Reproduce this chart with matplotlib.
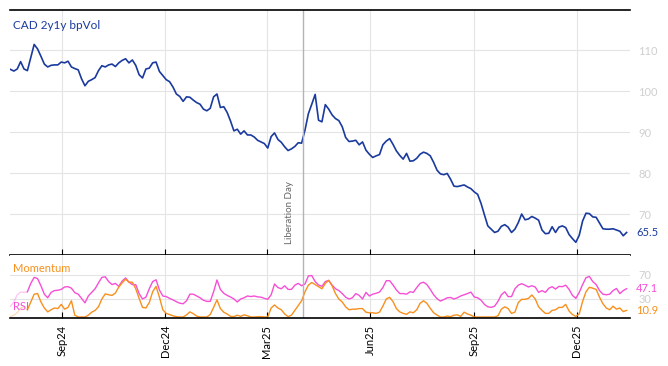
import matplotlib.pyplot as plt
import pandas as pd

plt.rcParams['font.family'] = ['Lato', 'DejaVu Sans']

# CAD 2y1y normal vol (bp), sampled every 3 days from 17 Jul 2024
vol = [105.3, 104.9, 105.4, 107.2, 105.4, 105.0, 108.2, 111.4, 110.3, 108.5,
       106.6, 105.9, 106.3, 106.4, 106.4, 107.1, 106.9, 107.3, 105.9, 105.5,
       105.2, 103.0, 101.3, 102.4, 102.8, 103.3, 105.0, 106.2, 105.9, 106.4,
       106.6, 106.0, 106.9, 107.5, 107.9, 106.9, 107.6, 106.3, 104.0, 103.2,
       105.4, 105.6, 106.9, 107.1, 104.8, 103.8, 102.8, 102.3, 101.0, 99.3,
       98.7, 97.5, 98.6, 98.5, 97.8, 97.2, 96.8, 95.6, 95.2, 95.8,
       98.6, 99.3, 96.0, 96.2, 94.8, 92.7, 90.3, 90.7, 89.5, 90.3,
       89.3, 89.3, 88.8, 88.0, 87.6, 87.2, 86.1, 88.9, 89.8, 88.2,
       87.5, 86.4, 85.5, 85.9, 86.5, 87.4, 87.3, 90.5, 94.5, 96.8,
       99.2, 92.9, 92.5, 96.7, 95.6, 94.2, 93.3, 92.8, 91.3, 88.7,
       87.7, 87.8, 88.0, 86.9, 87.6, 85.6, 84.6, 83.8, 84.2, 84.5,
       86.9, 87.8, 88.4, 87.0, 85.4, 84.3, 83.4, 84.8, 82.9, 83.0,
       83.6, 84.6, 85.1, 84.8, 84.2, 82.6, 80.7, 79.8, 79.6, 79.9,
       78.5, 76.8, 76.7, 76.9, 77.1, 76.6, 76.2, 75.4, 74.8, 72.6,
       69.8, 67.1, 66.3, 65.5, 65.8, 67.0, 67.4, 66.8, 65.5, 66.3,
       67.9, 70.0, 68.6, 68.8, 69.4, 69.0, 68.5, 66.1, 65.2, 65.3,
       66.9, 65.5, 66.8, 67.1, 66.7, 65.0, 64.0, 63.1, 64.8, 68.3,
       70.2, 70.1, 69.3, 69.2, 67.8, 66.4, 66.3, 66.3, 66.4, 66.1,
       65.8, 64.7, 65.5]

rsi = [18, 25, 37, 41.5, 41, 42, 56, 66, 64, 52,
       38, 32, 41, 44, 44.5, 46, 50, 50.5, 48, 40.5,
       38, 31, 23.5, 35, 41, 47, 57, 66, 67, 59,
       54, 56, 51, 60, 65, 58, 54, 54, 39, 30,
       33, 47, 59, 62, 45, 35, 34, 31, 28.5, 25.5,
       23, 22, 27, 38, 38, 35, 32, 28, 26, 26,
       42, 61.7, 46, 39.5, 36, 33.3, 30, 25, 30, 32,
       35, 34, 35, 33.5, 33, 31, 29.5, 37, 55, 49,
       47, 52, 46, 46, 53, 56, 52, 55, 68.5, 69,
       59, 53.3, 51, 59, 61, 53, 47, 44, 39, 33,
       30, 32, 39, 36, 30, 41, 35, 38, 39.5, 41.5,
       49, 60.5, 60.5, 53.3, 45, 39, 39, 38, 42, 41,
       49, 56, 58, 54, 46, 37, 30.5, 26.5, 29, 32,
       32.5, 30, 32, 35, 37, 39, 41.5, 33.3, 32, 28,
       21, 17, 16, 18, 26, 37, 42, 34, 34, 47,
       53, 55.5, 53, 50, 52, 50, 41, 44, 41, 47.8,
       50.5, 46.5, 51, 50.5, 53, 46, 36, 31, 41, 54,
       65.5, 67.5, 59, 54, 44, 38, 37, 38, 44, 47.5,
       39, 44, 47.1]

momentum = [1, 3, 7, 15, 16, 12, 25, 38, 39, 25,
            15, 8.5, 12, 15, 14, 21, 13, 16, 27, 3,
            0, 0, 0, 3, 8, 11, 17, 30, 38.5, 37,
            36, 40, 50, 57, 63, 58, 58, 47, 31, 16,
            15, 24, 42, 51, 33, 12, 6, 4, 2, 0.5,
            0, 0, 3.5, 8.5, 5.5, 1.5, 0, 0, 0, 4,
            16, 28.5, 14, 8, 5, 1, 0.5, 3, 1, 3.5,
            2, 0, 0, 0.5, 0.5, 0, 0, 15, 20, 15,
            12, 5, 0.5, 3, 11, 19, 27, 42, 53, 57.5,
            54, 50.5, 47, 56, 61, 52, 39, 30, 25, 17,
            12, 13, 13, 14, 14, 8, 7, 7, 6, 8,
            18, 30, 32.8, 25.6, 14, 8.5, 6, 4.5, 8.5, 7,
            12, 22.8, 27, 22.8, 14.5, 7, 3.3, 0, 0, 1.5,
            0.5, 3, 3.5, 1, 8, 5, 3, 0, 0, 0,
            0, 0, 0, 0, 2, 13, 17, 14, 6, 8,
            24, 29.4, 29.4, 31, 36.7, 30, 17, 11, 6, 6,
            11, 12, 16, 16, 21, 10, 4, 1, 5, 26,
            42, 49.5, 48, 46, 33, 22, 15, 12, 18, 13,
            15, 9, 10.9]

dates = pd.date_range("2024-07-17", periods=len(vol), freq="3D")
tick_dates = pd.to_datetime(["2024-09-01", "2024-12-01", "2025-03-01",
                             "2025-06-01", "2025-09-01", "2025-12-01"])
tick_labels = ["Sep24", "Dec24", "Mar25", "Jun25", "Sep25", "Dec25"]
event_date = pd.Timestamp("2025-04-02")

blue = "#1a3a9e"
pink = "#f64fd6"
orange = "#f7901e"
grid_c = "#e4e4e4"
label_c = "#cfcfcf"

fig = plt.figure(figsize=(6.68, 3.66), dpi=100)
ax = fig.add_axes([10/668, 1-255/366, 620/668, 245/366])
ax2 = fig.add_axes([10/668, 1-318/366, 620/668, 63/366], sharex=ax)

# main panel
ax.plot(dates, vol, color=blue, lw=1.2)
ax.set_ylim(60, 119.8)
ax.set_xlim(pd.Timestamp("2024-07-16 14:00"), pd.Timestamp("2026-01-17"))
ax.set_yticks([70, 80, 90, 100, 110])
ax.yaxis.tick_right()
ax.tick_params(axis='y', length=0, labelsize=8, labelcolor=label_c, pad=6)
ax.set_xticks(tick_dates)
ax.tick_params(axis='x', direction='in', length=4, labelbottom=False)
ax.grid(color=grid_c, lw=0.8)
for s in ["left", "right"]:
	ax.spines[s].set_visible(False)
ax.spines["top"].set_linewidth(1.2)
ax.spines["bottom"].set_linewidth(1.2)
ax.text(0.005, 0.935, "CAD 2y1y bpVol", transform=ax.transAxes,
	color=blue, fontsize=8.5, va='center')
ax.text(1.01, vol[-1], "%.1f" % vol[-1], transform=ax.get_yaxis_transform(),
	color=blue, fontsize=8, va='center')

ax.axvline(event_date, color="#b4b4b4", lw=1)
ax.text(event_date - pd.Timedelta(days=11.5), 62.6, "Liberation Day",
	rotation=90, ha='center', va='bottom', fontsize=7, color="#666666")

# indicator panel
ax2.plot(dates[:6], rsi[:6], color=pink, lw=1, alpha=0.3)
ax2.plot(dates[5:], rsi[5:], color=pink, lw=1)
ax2.plot(dates[:6], momentum[:6], color=orange, lw=1, alpha=0.3)
ax2.plot(dates[5:], momentum[5:], color=orange, lw=1)
ax2.set_ylim(-1.7, 103.3)
ax2.set_yticks([30, 70])
ax2.yaxis.tick_right()
ax2.tick_params(axis='y', length=0, labelsize=8, labelcolor=label_c, pad=6)
ax2.set_xticks(tick_dates)
ax2.set_xticklabels(tick_labels, rotation=90)
ax2.tick_params(axis='x', direction='in', length=4, labelsize=8, pad=5)
ax2.grid(color=grid_c, lw=0.8)
for s in ["left", "right", "top"]:
	ax2.spines[s].set_visible(False)
ax2.spines["bottom"].set_linewidth(1.2)
ax2.axvline(event_date, color="#b4b4b4", lw=1)
ax2.text(0.005, 0.78, "Momentum", transform=ax2.transAxes, color=orange,
	fontsize=8, va='center')
ax2.text(0.005, 0.18, "RSI", transform=ax2.transAxes, color=pink,
	fontsize=8, va='center')
ax2.text(1.01, rsi[-1], "%.1f" % rsi[-1], transform=ax2.get_yaxis_transform(),
	color=pink, fontsize=8, va='center')
ax2.text(1.01, momentum[-1], "%.1f" % momentum[-1],
	transform=ax2.get_yaxis_transform(), color=orange, fontsize=8, va='center')

fig.savefig("out.png", dpi=100)
